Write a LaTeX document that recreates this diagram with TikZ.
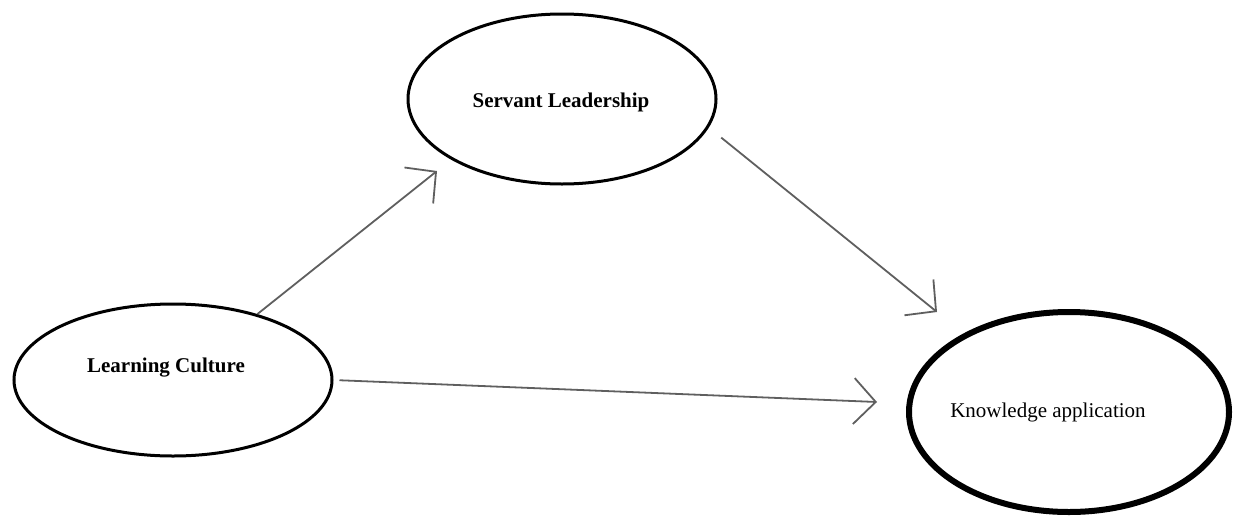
\documentclass[tikz,border=0pt]{standalone}
\usepackage{fontspec}
\setmainfont{Liberation Serif}
\usetikzlibrary{shapes.geometric,arrows.meta}
\definecolor{linkgray}{RGB}{95,95,95}
\begin{document}
\begin{tikzpicture}[x=0.5pt,y=-0.5pt,
  construct/.style={draw=black,ellipse,inner sep=0pt,line width=1.5pt},
  caption/.style={font=\fontsize{10.5}{12}\selectfont},
  boldcaption/.style={font=\fontsize{10.5}{12}\selectfont\bfseries},
  link/.style={draw=linkgray,line width=0.9pt,
    -{Straight Barb[length=11pt,width=23pt,line width=0.9pt]}}]
\useasboundingbox (0,0) rectangle (1236,520);

% constructs
\node[construct,minimum width=159pt,minimum height=76pt] (lc) at (173,380) {};
\node[construct,minimum width=154pt,minimum height=85pt] (sl) at (562,99) {};
\node[construct,line width=3pt,minimum width=160pt,minimum height=100pt] (ka) at (1069,412) {};

% construct names
\node[boldcaption] (lctext) at (166,368) {Learning Culture};
\node[boldcaption] (sltext) at (561,102) {Servant Leadership};
\node[caption] (katext) at (1048,412) {Knowledge application};

% arrow tips stop short of the target ellipses
\coordinate (tipsl) at (437,171);
\coordinate (tipka1) at (937,312);
\coordinate (tipka2) at (877,402);

% paths
\draw[link] (lc.38) -- (tipsl);
\draw[link,shorten <=8pt] (sl.-11) -- (tipka1);
\draw[link,shorten <=3pt] (lc.east) -- (tipka2);
\end{tikzpicture}
\end{document}
